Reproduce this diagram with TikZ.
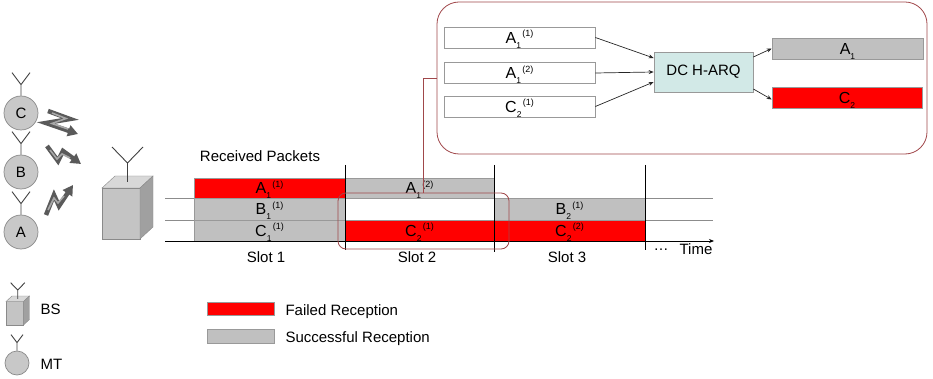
\documentclass[tikz,border=0pt]{standalone}
\usepackage{fontspec}
\setmainfont{Liberation Sans}
\usetikzlibrary{arrows.meta,calc}

\definecolor{failred}{HTML}{FF0000}
\definecolor{okgray}{HTML}{C0C0C0}
\definecolor{edgegray}{HTML}{999999}
\definecolor{rowgray}{HTML}{8C8C8C}
\definecolor{hilite}{HTML}{A0474A}
\definecolor{harqfill}{HTML}{D2E9E7}
\definecolor{mtfill}{HTML}{C8C8C8}
\definecolor{cubefront}{HTML}{C4C4C4}
\definecolor{cubetop}{HTML}{D8D8D8}
\definecolor{cubeside}{HTML}{A0A0A0}
\definecolor{cubeedge}{HTML}{8A8A8A}
\definecolor{antcol}{HTML}{404040}
\definecolor{boltdark}{HTML}{5A5A5A}
\definecolor{boltlight}{HTML}{A8A8A8}

% packet label: letter with a subscript and a superscript set side by side
\newcommand{\pktlabel}[3]{{\fontsize{16}{18}\selectfont #1}\smash{\rlap{\raisebox{-5pt}{\fontsize{8.5}{9}\selectfont #2}}\hspace{6pt}\raisebox{6.5pt}{\fontsize{9}{9}\selectfont #3}}}
\newcommand{\pktsub}[2]{{\fontsize{16}{18}\selectfont #1}\smash{\raisebox{-5pt}{\fontsize{8.5}{9}\selectfont #2}}}

\tikzset{
  pkt/.style={draw=edgegray, line width=0.6pt, inner sep=0pt, minimum width=151pt},
  okpkt/.style={pkt, fill=okgray},
  badpkt/.style={pkt, fill=failred},
  inbox/.style={draw=edgegray, line width=0.7pt, fill=white, inner sep=0pt,
    minimum width=151pt, minimum height=21pt},
  rowline/.style={draw=rowgray, line width=0.7pt},
  slotline/.style={draw=black, line width=0.8pt},
  flow/.style={draw=black!85, line width=0.7pt, -{Stealth[length=5pt,width=4pt]}},
  mtnode/.style={circle, draw=cubeedge, fill=mtfill, line width=0.7pt,
    minimum size=34pt, inner sep=0pt},
  antline/.style={draw=antcol, line width=0.9pt},
  bolt/.style={draw=boltdark, line width=4.5pt, line join=miter,
    -{Triangle[length=10pt,width=11pt]}},
  boltlit/.style={draw=boltlight, line width=1.6pt, line join=miter},
  bs/.pic={
    \filldraw[fill=cubefront, draw=cubeedge] (0,0) rectangle (38,-51);
    \filldraw[fill=cubetop, draw=cubeedge] (0,-51) -- (13,-63) -- (51,-63) -- (38,-51) -- cycle;
    \filldraw[fill=cubeside, draw=cubeedge] (38,-51) -- (51,-63) -- (51,-12) -- (38,0) -- cycle;
    \draw[antline] (25.5,-57) -- (25.5,-76) -- (10,-92) (25.5,-76) -- (41,-92);
  }
}

\begin{document}
\begin{tikzpicture}[x=1pt, y=-1pt, font=\fontsize{15}{18}\selectfont]
\useasboundingbox (0,0) rectangle (933,379);

% mobile terminals with antennas
\node[mtnode] (mtC) at (21,113) {C};
\node[mtnode] (mtB) at (21,172) {B};
\node[mtnode] (mtA) at (21,232) {A};
\foreach \m in {mtC,mtB,mtA}
  \draw[antline] (\m.north) -- ++(0,-11) -- ++(-9,-12) ++(9,12) -- ++(9,-12);

% radio links towards the base station
\draw[bolt] (48,111) -- (70,119) -- (46,123) -- (78,134);
\draw[boltlit] (52,113) -- (66,118.5) -- (52,123.5) -- (68,129);
\draw[bolt] (47,146) -- (58,161) -- (63,151) -- (81,164);
\draw[boltlit] (50,150) -- (57,159) -- (62,154) -- (70,158);
\draw[bolt] (46,215) -- (54,195) -- (59,206) -- (73,185);
\draw[boltlit] (48,210) -- (54,198) -- (58,203) -- (64,196);

% base station
\pic at (102,239) {bs};

% time lines of the three users
\draw[rowline] (165,198) -- (713,198);
\draw[rowline] (165,220) -- (713,220);

\node (rp) at (260,156) {Received Packets};

% slot 1
\node[badpkt, minimum height=20pt] (a11) at (269.5,188) {\pktlabel{A}{1}{(1)}};
\node[okpkt, minimum height=22pt] (b11) at (269.5,209) {\pktlabel{B}{1}{(1)}};
\node[okpkt, minimum height=21pt] (c11) at (269.5,230.5) {\pktlabel{C}{1}{(1)}};
% slot 2
\node[okpkt, minimum width=149pt, minimum height=20pt] (a12) at (419.5,188) {\pktlabel{A}{1}{(2)}};
\node[badpkt, minimum width=149pt, minimum height=21pt] (c21) at (419.5,230.5) {\pktlabel{C}{2}{(1)}};
% slot 3
\node[okpkt, minimum height=22pt] (b21) at (569.5,209) {\pktlabel{B}{2}{(1)}};
\node[badpkt, minimum height=21pt] (c22) at (569.5,230.5) {\pktlabel{C}{2}{(2)}};

% slot boundaries and time axis
\draw[slotline] (345,165) -- (345,250);
\draw[slotline] (494,165) -- (494,252);
\draw[slotline] (645,165) -- (645,250);
\draw[draw=black, line width=0.8pt, -{Stealth[length=5pt,width=4pt]}] (165,241) -- (714,241);

\node (s1) at (266,257) {Slot 1};
\node (s2) at (417,257) {Slot 2};
\node (s3) at (567,257) {Slot 3};
\node[anchor=base] (dots) at (661,251) {\textellipsis};
\node[anchor=base] (time) at (696,254) {Time};

% packets combined in slot 2
\node[draw=hilite, line width=0.8pt, rounded corners=8pt, minimum width=171pt,
      minimum height=56pt, inner sep=0pt] (hl) at (423.5,221) {};

% decoding detail
\node[draw=hilite, line width=0.8pt, rounded corners=22pt, minimum width=490pt,
      minimum height=152pt, inner sep=0pt] (inset) at (682,78) {};
\draw[draw=hilite, line width=0.8pt] (hl.north) |- (inset.west);

\node[inbox] (in1) at (519.5,37.5) {\pktlabel{A}{1}{(1)}};
\node[inbox] (in2) at (519.5,73) {\pktlabel{A}{1}{(2)}};
\node[inbox] (in3) at (519.5,106.5) {\pktlabel{C}{2}{(1)}};
\node[draw=edgegray, line width=0.7pt, fill=harqfill, minimum width=99pt,
      minimum height=40pt, inner sep=0pt] (harq) at (703.5,72) {DC H-ARQ};
\node[okpkt, minimum height=21pt] (outA) at (847.5,48.5) {\pktsub{A}{1}};
\node[badpkt, minimum width=150pt, minimum height=21pt] (outC) at (847,97.5) {\pktsub{C}{2}};

\draw[flow] (in1.east) -- ([yshift=14pt]harq.west);
\draw[flow] (in2.east) -- (harq.west);
\draw[flow] (in3.east) -- ([yshift=-10pt]harq.west);
\draw[flow] ([yshift=15pt]harq.east) -- (outA.west);
\draw[flow] ([yshift=-17pt]harq.east) -- ([yshift=-2pt]outC.west);

% legend
\pic[scale=0.46] at (6,325) {bs};
\node[anchor=base west] (lbs) at (37,314) {BS};
\node[mtnode, minimum size=24pt] (mtL) at (17,363) {};
\draw[antline] (mtL.north) -- ++(0,-8) -- ++(-6,-8) ++(6,8) -- ++(6,-8);
\node[anchor=base west] (lmt) at (37,369) {MT};

\node[badpkt, minimum width=67pt, minimum height=13pt] (kfail) at (240.5,308.5) {};
\node[anchor=base west] (lfail) at (282,315) {Failed Reception};
\node[okpkt, minimum width=67pt, minimum height=14pt] (kok) at (240.5,336) {};
\node[anchor=base west] (lok) at (282,342) {Successful Reception};
\end{tikzpicture}
\end{document}
